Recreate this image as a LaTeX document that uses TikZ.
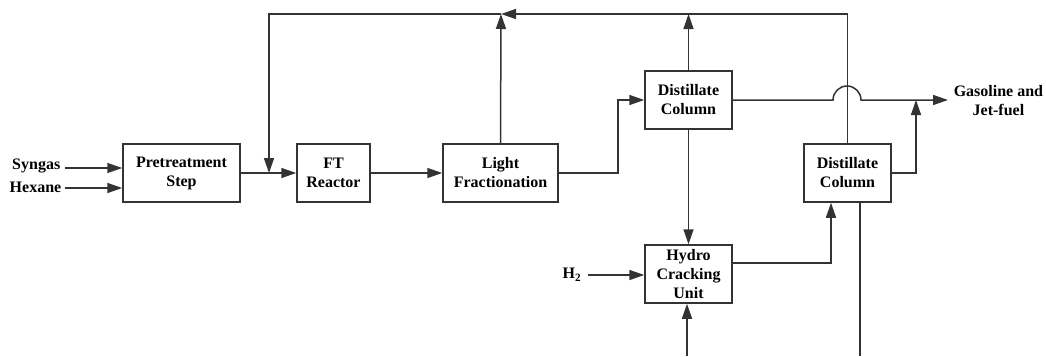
\documentclass[tikz,border=0pt]{standalone}
\usepackage{fontspec}
\setmainfont{Liberation Serif}
\usetikzlibrary{arrows.meta}
\begin{document}
\begin{tikzpicture}[x=1pt,y=-1pt,
  line width=1.5pt,
  every node/.style={font=\fontsize{16}{19}\selectfont\bfseries},
  unit/.style={draw=black!80,line width=1.5pt,align=center,inner sep=0pt,
    minimum height=58pt,text width=#1,minimum width=#1},
  flow/.style={draw=black!80,-{Triangle[length=15pt,width=10pt]}},
  pipe/.style={draw=black!80},
  tag/.style={inner sep=0pt,align=center}]
\useasboundingbox (0,0) rectangle (1046,356);

% process units
\node[unit=117pt] (pre)   at (181.5,173) {Pretreatment\\Step};
\node[unit=73pt]  (ft)    at (333.5,173) {FT\\Reactor};
\node[unit=115pt] (light) at (500.5,173) {Light\\Fractionation};
\node[unit=87pt]  (dc1)   at (688.5,100) {Distillate\\Column};
\node[unit=87pt]  (hcu)   at (688.5,274) {Hydro\\Cracking\\Unit};
\node[unit=87pt]  (dc2)   at (847.5,173) {Distillate\\Column};

% stream labels
\node[tag,anchor=east] (syn) at (61,166) {Syngas};
\node[tag,anchor=east] (hex) at (62,187) {Hexane};
\node[tag,anchor=east] (h2)  at (582,275) {H$_\mathbf{2}$};
\node[tag,anchor=west] (prod) at (953,101) {Gasoline and\\Jet-fuel};

% junction points
\coordinate (jn)  at (501,14);
\coordinate (fb)  at (269,173);
\coordinate (fbt) at (269,14);
\coordinate (in1) at (687,356);
\coordinate (out2) at (860,356);
\coordinate (hop) at (847,100);

% feeds
\draw[flow] ([xshift=4pt]syn.east |- 0,168) -- (pre.west |- 0,168);
\draw[flow] ([xshift=3pt]hex.east |- 0,188) -- (pre.west |- 0,188);
\draw[flow] ([xshift=6pt]h2.east) -- (hcu.west |- h2.east);
\draw[flow] (in1) -- (in1 |- hcu.south);

% main line
\draw[flow] (pre.east) -- (ft.west);
\draw[flow] (ft.east) -- (light.west);
\draw[flow] (light.east) -- ++(59,0) |- (dc1.west);
\draw[flow] (dc1.south) -- (hcu.north);
\draw[flow] (hcu.east |- 0,263) -| (dc2.south -| 831,0);
\draw[pipe] (dc2.south -| out2) -- (out2);

% recycle loop
\draw[flow] (light.north) -- (jn);
\draw[flow] (dc1.north) -- (dc1.north |- jn);
\draw[flow] (dc2.north) |- (jn);
\draw[flow] (jn) -- (fbt) -- (fb);

% products, hopping over the recycle riser
\draw[flow] (dc1.east) -- ([xshift=-14pt]hop)
  arc[start angle=180,end angle=0,radius=14pt] -- ([xshift=-5pt]prod.west |- hop);
\draw[flow] (dc2.east) -- (916,173) -- (916,100);
\end{tikzpicture}
\end{document}
